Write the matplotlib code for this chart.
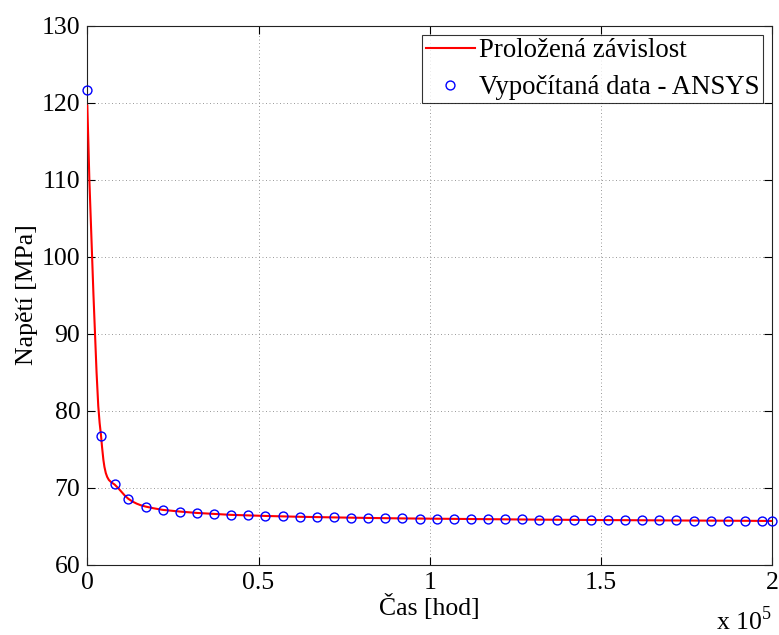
import matplotlib
matplotlib.use("Agg")
import matplotlib.pyplot as plt

plt.rcParams["font.family"] = ["Liberation Serif", "DejaVu Serif"]
plt.rcParams["mathtext.fontset"] = "custom"
plt.rcParams["mathtext.rm"] = "Liberation Serif"

# computed data points (ANSYS)
t_data = [0, 4000, 8000, 12000,
          17000, 22000, 27000, 32000, 37000, 42000, 47000, 52000, 57000, 62000,
          67000, 72000, 77000, 82000, 87000, 92000, 97000, 102000, 107000, 112000,
          117000, 122000, 127000, 132000, 137000, 142000, 147000, 152000, 157000,
          162000, 167000, 172000, 177000, 182000, 187000, 192000, 197000, 200000]
s_data = [121.65, 76.75, 70.45, 68.5,
          67.55, 67.12, 66.9, 66.72, 66.59, 66.47, 66.39, 66.33, 66.27, 66.22,
          66.18, 66.14, 66.1, 66.07, 66.04, 66.01, 65.99, 65.97, 65.95, 65.93,
          65.91, 65.89, 65.87, 65.85, 65.84, 65.82, 65.81, 65.79, 65.78,
          65.77, 65.76, 65.74, 65.73, 65.72, 65.71, 65.7, 65.69, 65.68]

# fitted curve
t_fit = [0, 300, 600, 1000, 1400, 1800, 2250, 2700, 3200, 3600, 4000, 4300,
         4700, 5000, 5400, 5800, 6300, 7000, 8000, 9000, 10000, 11000, 12000,
         13200, 14400, 15600, 17000, 19300, 22000, 27000,
         32000, 42000, 52000, 62000, 72000, 82000, 92000, 102000, 112000,
         122000, 132000, 142000, 152000, 162000, 172000, 182000, 192000, 200000]
s_fit = [119.6, 115.0, 110.0, 105.0, 100.0, 95.0, 90.0, 85.0, 80.6, 78.4, 76.8, 75.3,
         73.6, 72.7, 71.9, 71.4, 71.0, 70.7, 70.4, 69.95, 69.45, 68.95, 68.55,
         68.2, 67.93, 67.72, 67.55, 67.33, 67.12, 66.9,
         66.72, 66.47, 66.33, 66.22, 66.14, 66.07, 66.01, 65.97, 65.93,
         65.89, 65.85, 65.82, 65.79, 65.77, 65.74, 65.72, 65.7, 65.68]

x_ticks = [0, 50000, 100000, 150000, 200000]
x_ticklabels = ["0", "0.5", "1", "1.5", "2"]
y_ticks = [60, 70, 80, 90, 100, 110, 120, 130]

FS = 18.5

fig = plt.figure(figsize=(7.79, 6.35), dpi=100)
ax = fig.add_axes([87.3 / 779, 1 - 564.7 / 635, (772.3 - 87.3) / 779, (564.7 - 25.5) / 635])

ax.plot(t_fit, s_fit, color="red", lw=1.5, label="Proložená závislost", zorder=3)
ax.plot(t_data, s_data, ls="none", marker="o", ms=6.4, mew=1.0, mfc="none",
        mec="blue", label="Vypočítaná data - ANSYS", zorder=4, clip_on=False)

ax.set_xlim(0, 200000)
ax.set_ylim(60, 130)
ax.set_xticks(x_ticks)
ax.set_xticklabels(x_ticklabels)
ax.set_yticks(y_ticks)
ax.tick_params(direction="in", length=6, width=0.8, top=True, right=True,
               labelsize=FS, pad=5, colors="black")
ax.grid(True, ls=(0, (1, 2.6)), color="#999999", lw=0.7)
for sp in ax.spines.values():
    sp.set_color("#222222")
    sp.set_linewidth(0.8)

ax.set_xlabel("Čas [hod]", fontsize=FS, labelpad=0)
ax.set_ylabel("Napětí [MPa]", fontsize=FS, labelpad=3)

fig.text(716 / 779, 1 - 630 / 635, r"x 10$^{5}$", fontsize=FS, ha="left", va="baseline")

leg = ax.legend(loc="upper right", fontsize=19.3, frameon=True, fancybox=False,
                edgecolor="black", borderaxespad=0.35, handlelength=1.85,
                handletextpad=0.15, labelspacing=0.45, borderpad=0.12)
leg.get_frame().set_linewidth(0.8)

fig.savefig("out.png", dpi=100)
